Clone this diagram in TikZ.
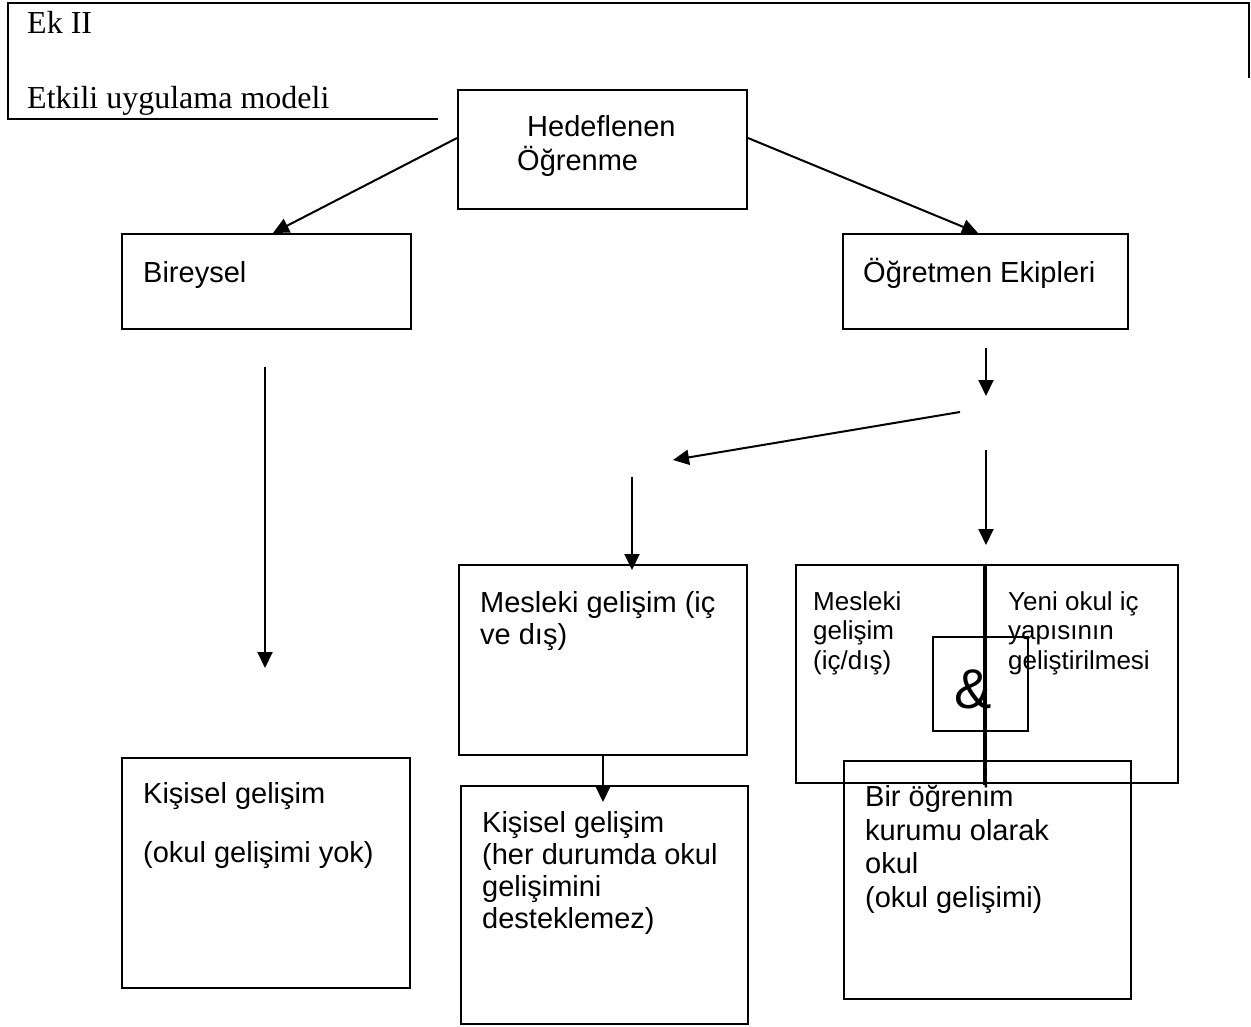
\documentclass[tikz,border=0pt]{standalone}
\usepackage{fontspec}
\setmainfont{Liberation Serif}
\newfontfamily\arialf{Liberation Sans}
\usetikzlibrary{arrows.meta}
\begin{document}
\begin{tikzpicture}[x=1pt,y=-1pt,
  box/.style={draw, line width=2pt, inner sep=0pt, anchor=north west},
  lbl/.style={font=\arialf\fontsize{29}{33.5}\selectfont, inner sep=0pt, anchor=base west, align=left},
  lbltight/.style={font=\arialf\fontsize{29}{32}\selectfont, inner sep=0pt, anchor=base west, align=left},
  small/.style={font=\arialf\fontsize{26}{29.5}\selectfont, inner sep=0pt, anchor=base west, align=left},
  serif/.style={font=\fontsize{32}{36}\selectfont, inner sep=0pt, anchor=base west},
  arr/.style={line width=2pt, -{Triangle[length=16pt,width=15pt]}},
  frame/.style={line width=2.5pt}
]
\useasboundingbox (0,0) rectangle (1251,1026);

% header frame
\draw[frame] (438,119) -- (8,119) -- (8,3) -- (1249,3) -- (1249,78);
\node[serif] (ek) at (27,33) {Ek II};
\node[serif] (etk) at (27,108) {Etkili uygulama modeli};

% boxes
\node[box, minimum width=289pt, minimum height=119pt] (hed) at (457,89) {};
\node[box, minimum width=289pt, minimum height=95pt] (bir) at (121,233) {};
\node[box, minimum width=285pt, minimum height=95pt] (ogr) at (842,233) {};
\node[box, minimum width=288pt, minimum height=230pt] (kis1) at (121,757) {};
\node[box, minimum width=288pt, minimum height=190pt] (mes) at (458,564) {};
\node[box, minimum width=287pt, minimum height=238pt] (kis2) at (460,785) {};
\node[box, minimum width=382pt, minimum height=218pt] (big) at (795,564) {};
\node[box, line width=1.5pt, minimum width=95pt, minimum height=94pt] (amp) at (932,636) {};
\node[box, minimum width=287pt, minimum height=238pt] (okul) at (843,760) {};
\draw[line width=3.5pt] (big.north -| 985,0) -- (985,785);

% texts (base anchor of a multi-line node = baseline of its last line)
\node[font=\arialf\fontsize{29}{34}\selectfont, inner sep=0pt, anchor=base west, align=left] (thed) at (517,170) {\hspace*{10pt}Hedeflenen\\Öğrenme};
\node[lbl] (tbir) at (143,282) {Bireysel};
\node[lbl] (togr) at (863,282) {Öğretmen Ekipleri};
\node[lbl] (tkis1) at (143,862) {Kişisel gelişim\\[25.5pt](okul gelişimi yok)};
\node[lbltight] (tmes) at (480,644) {Mesleki gelişim (iç\\ve dış)};
\node[lbltight] (tkis2) at (482,928) {Kişisel gelişim\\(her durumda okul\\gelişimini\\desteklemez)};
\node[small] (tml) at (813,669) {Mesleki\\gelişim\\(iç/dış)};
\node[small] (tyeni) at (1008,669) {Yeni okul iç\\yapısının\\geliştirilmesi};
\node[font=\arialf\fontsize{56}{60}\selectfont, inner sep=0pt, anchor=base west] (tamp) at (954,708) {\&};
\node[lbl] (tokul) at (865,907) {Bir öğrenim\\kurumu olarak\\okul\\(okul gelişimi)};

% free arrow ends
\coordinate (b1) at (265,367);
\coordinate (b2) at (265,668);
\coordinate (r1) at (986,348);
\coordinate (r2) at (986,396);
\coordinate (s1) at (960,412);
\coordinate (s2) at (673,460);
\coordinate (m1) at (632,477);
\coordinate (m2) at (632,570);
\coordinate (g1) at (986,450);
\coordinate (g2) at (986,545);

% arrows
\draw[arr] ([yshift=11.5pt]hed.west) -- ([xshift=6.5pt]bir.north);
\draw[arr] ([yshift=11.5pt]hed.east) -- ([xshift=-7.5pt]ogr.north);
\draw[arr] (b1) -- (b2);
\draw[arr] (r1) -- (r2);
\draw[arr] (s1) -- (s2);
\draw[arr] (m1) -- (m2);
\draw[arr] (g1) -- (g2);
\draw[arr] (mes.south) -- ([xshift=-1.5pt,yshift=-17pt]kis2.north);
\end{tikzpicture}
\end{document}
